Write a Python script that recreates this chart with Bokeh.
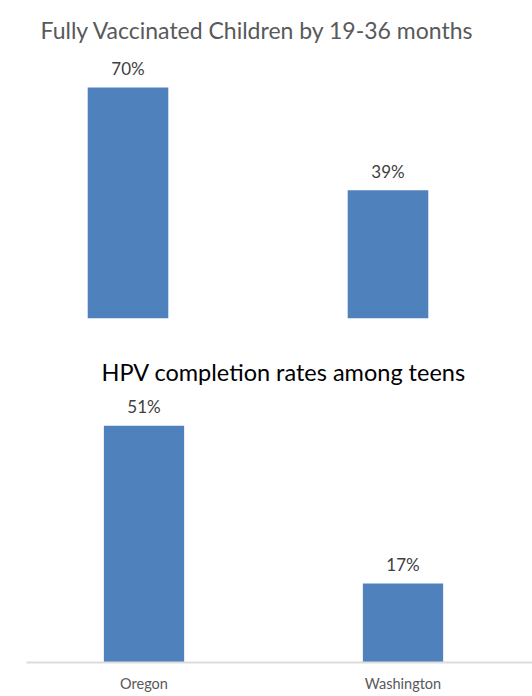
from bokeh.plotting import figure
from bokeh.layouts import column
from bokeh.models import ColumnDataSource, LabelSet, Range1d, FixedTicker
from bokeh.core.properties import value
from bokeh.embed import file_html
from bokeh.resources import INLINE

# ---- data ----
states = ["Oregon", "Washington"]
children_pct = [70, 39]
hpv_pct = [51, 17]
title_children = "Fully Vaccinated Children by 19-36 months"
title_hpv = "HPV completion rates among teens"

BAR = "#4f81bd"
FONT = "Lato"

idx = list(range(len(states)))

W = 532


def make_fig(h, bt, xr, yr, title, axis):
    p = figure(width=W, height=h, x_range=xr, y_range=yr,
               x_axis_type="linear" if axis else None, y_axis_type=None,
               output_backend="svg", toolbar_location=None,
               min_border_left=26, min_border_right=0,
               min_border_top=bt, min_border_bottom=28,
               title=title)
    p.outline_line_color = None
    p.xgrid.visible = False
    p.ygrid.visible = False
    p.title.align = "left"
    p.title.text_font = FONT
    p.title.text_font_style = "normal"
    p.title.text_font_size = "23px"
    return p


def add_bars(p, vals):
    src = ColumnDataSource(dict(x=idx, y=vals, label=[f"{v}%" for v in vals]))
    p.vbar(x="x", top="y", width=0.31, source=src,
           fill_color=BAR, line_color=None)
    p.add_layout(LabelSet(x="x", y="y", text="label", source=src,
                          text_align="center", text_baseline="middle",
                          y_offset=19, text_font_size="17px",
                          text_color="#404040", text_font=value(FONT)))


# thin grey rule along the very top of the picture
rule = figure(width=521, height=3, x_axis_type=None, y_axis_type=None,
              output_backend="svg", toolbar_location=None,
              min_border=0, margin=(1, 0, 0, 11))
rule.outline_line_color = None
rule.background_fill_color = "#e2e2e2"
rule.border_fill_color = "#e2e2e2"

# ---- top chart ----
p1 = make_fig(342, 41, Range1d(-0.3904, 1.5558), Range1d(0.302, 82.68),
              title_children, axis=False)
add_bars(p1, children_pct)
p1.title.offset = 14
p1.title.standoff = 4
p1.title.text_color = "#595959"

# ---- bottom chart ----
p2 = make_fig(348, 42, Range1d(-0.4537, 1.5), Range1d(0, 59.0),
              title_hpv, axis=True)
add_bars(p2, hpv_pct)
p2.title.offset = 75
p2.title.standoff = 6
p2.title.text_font_size = "23.5px"
p2.title.text_color = "#000000"

ax = p2.xaxis[0]
ax.ticker = FixedTicker(ticks=idx)
ax.major_label_overrides = {i: s for i, s in zip(idx, states)}
ax.axis_line_color = "#dcdcdc"
ax.axis_line_width = 2
ax.major_tick_line_color = None
ax.minor_tick_line_color = None
ax.major_label_standoff = 6
ax.major_label_text_font = FONT
ax.major_label_text_font_size = "14.5px"
ax.major_label_text_color = "#595959"

layout = column(rule, p1, p2, spacing=0)
open("out.html", "w").write(file_html(layout, INLINE))
